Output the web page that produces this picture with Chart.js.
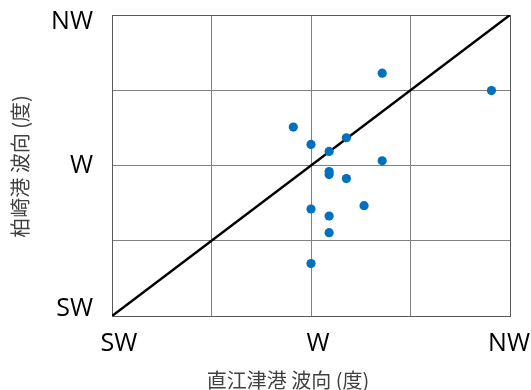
<!DOCTYPE html>
<html>
<head>
<meta charset="utf-8">
<script src="https://cdn.jsdelivr.net/npm/chart.js@4/dist/chart.umd.min.js"></script>
<style>
  html, body { margin: 0; padding: 0; background: #fff; }
  #wrap { width: 531px; height: 390px; }
</style>
</head>
<body>
<div id="wrap"><canvas id="c" width="531" height="390"></canvas></div>
<script>
// Wave direction (degrees) observed at Naoetsu port (x) and Kashiwazaki port (y)
const naoetsuDir    = [286.1, 310.8, 266.0, 278.0, 270.0, 274.1, 286.1, 274.1, 274.1, 278.0, 282.0, 270.0, 274.1, 274.1, 270.0];
const kashiwazakiDir = [297.6, 292.4, 281.5, 278.3, 276.3, 274.2, 271.4, 268.2, 267.3, 266.1, 258.0, 257.0, 254.9, 249.9, 240.7];

// 1:1 reference line
const equalLineX = [225, 315];
const equalLineY = [225, 315];

// Compass labels on both axes
const dirTickValues = [225, 270, 315];
const dirTickLabels = ['SW', 'W', 'NW'];

const xTitle = '直江津港 波向 (度)';
const yTitle = '柏崎港 波向 (度)';

const pointData = naoetsuDir.map((x, i) => ({ x, y: kashiwazakiDir[i] }));
const lineData = equalLineX.map((x, i) => ({ x, y: equalLineY[i] }));

const edgeColor = '#595959';
const gridColor = '#808080';
const gridByTick = (ctx) => {
  const v = ctx.tick && ctx.tick.value;
  return (v === 225 || v === 315) ? edgeColor : gridColor;
};

// Draws compass tick labels and axis titles
const axisText = {
  id: 'axisText',
  afterDraw(chart) {
    const { ctx, chartArea } = chart;
    const xs = chart.scales.x, ys = chart.scales.y;
    ctx.save();
    ctx.fillStyle = '#000';
    ctx.font = '25px "Open Sans", "Noto Sans", sans-serif';
    ctx.textBaseline = 'middle';

    // y-axis labels
    ctx.textAlign = 'right';
    dirTickValues.forEach((v, i) => {
      let py = ys.getPixelForValue(v);
      py = Math.min(Math.max(py, chartArea.top + 7), chartArea.bottom - 7);
      ctx.fillText(dirTickLabels[i], chartArea.left - 19, py);
    });

    // x-axis labels
    ctx.textAlign = 'center';
    dirTickValues.forEach((v, i) => {
      const w = ctx.measureText(dirTickLabels[i]).width;
      let px = xs.getPixelForValue(v) + 7;
      px = Math.min(px, chart.width - 1 - w / 2);
      ctx.fillText(dirTickLabels[i], px, chartArea.bottom + 28);
    });

    // axis titles
    ctx.fillStyle = '#404040';
    ctx.font = '20px "Noto Sans CJK JP", "Noto Sans", sans-serif';
    const cx = (chartArea.left + chartArea.right) / 2;
    ctx.fillText(xTitle, cx - 23, chartArea.bottom + 64);

    ctx.translate(20, (chartArea.top + chartArea.bottom) / 2 + 1);
    ctx.rotate(-Math.PI / 2);
    ctx.fillText(yTitle, 0, 0);
    ctx.restore();
  }
};

new Chart(document.getElementById('c'), {
  type: 'scatter',
  data: {
    datasets: [
      {
        label: '1:1',
        type: 'line',
        data: lineData,
        borderColor: '#000',
        borderWidth: 2.5,
        pointRadius: 0,
        fill: false,
        order: 2
      },
      {
        label: 'wave direction',
        data: pointData,
        backgroundColor: '#0070C0',
        borderColor: '#0070C0',
        pointRadius: 4.6,
        pointBorderWidth: 0,
        order: 1
      }
    ]
  },
  options: {
    responsive: false,
    animation: false,
    layout: { padding: { left: 0, right: 21, top: 15, bottom: 0 } },
    plugins: {
      legend: { display: false },
      tooltip: { enabled: false }
    },
    scales: {
      x: {
        type: 'linear',
        min: 225,
        max: 315,
        ticks: { stepSize: 22.5, display: false },
        grid: { color: gridByTick, lineWidth: 1, drawTicks: false },
        border: { color: edgeColor, width: 1 },
        afterFit(scale) { scale.height = 74; }
      },
      y: {
        type: 'linear',
        min: 225,
        max: 315,
        ticks: { stepSize: 22.5, display: false },
        grid: { color: gridByTick, lineWidth: 1, drawTicks: false },
        border: { color: edgeColor, width: 1 },
        afterFit(scale) { scale.width = 112; }
      }
    }
  },
  plugins: [axisText]
});
</script>
</body>
</html>
